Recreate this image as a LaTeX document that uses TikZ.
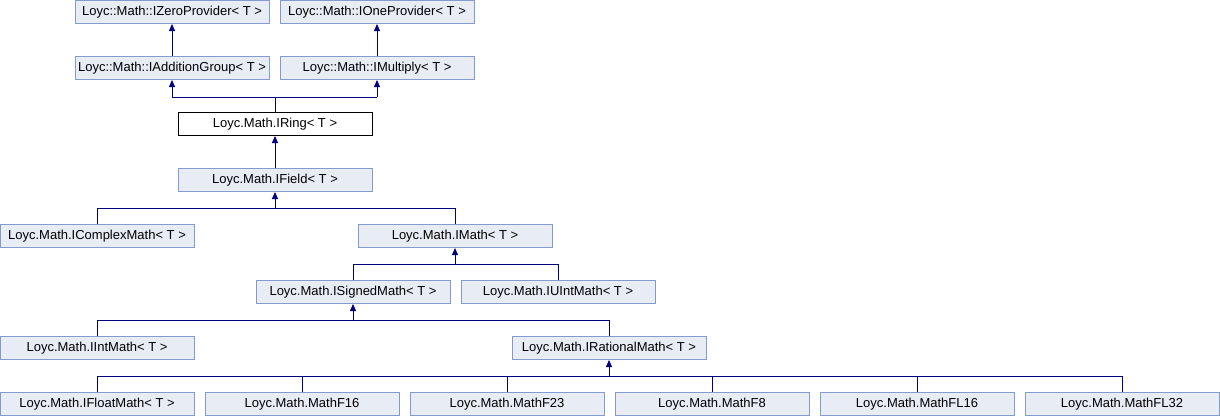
\documentclass[tikz,border=0pt]{standalone}
\usepackage{fontspec}
\setmainfont{Liberation Sans}
\usetikzlibrary{arrows.meta}
\definecolor{boxfill}{RGB}{232,236,245}
\definecolor{boxdraw}{RGB}{132,155,208}
\definecolor{edgecol}{RGB}{0,0,128}
\begin{document}
\begin{tikzpicture}[x=1pt,y=-1pt,
  cls/.style={draw=boxdraw,fill=boxfill,line width=1pt,minimum width=194pt,minimum height=23pt,inner sep=0pt,font=\fontsize{13}{15}\selectfont},
  cur/.style={cls,draw=black,fill=white},
  inh/.style={draw=edgecol,line width=1pt,-{Triangle[length=7pt,width=6pt]}},
  ln/.style={draw=edgecol,line width=1pt}]
\useasboundingbox (0,0) rectangle (1220,416);
% row 1
\node[cls] (zero) at (172,12) {Loyc::Math::IZeroProvider< T >};
\node[cls] (one) at (377,12) {Loyc::Math::IOneProvider< T >};
% row 2
\node[cls] (add) at (172,68) {Loyc::Math::IAdditionGroup< T >};
\node[cls] (mul) at (377,68) {Loyc::Math::IMultiply< T >};
% row 3
\node[cur] (ring) at (275,124) {Loyc.Math.IRing< T >};
% row 4
\node[cls] (field) at (275,180) {Loyc.Math.IField< T >};
% row 5
\node[cls] (complex) at (97,236) {Loyc.Math.IComplexMath< T >};
\node[cls] (imath) at (455,236) {Loyc.Math.IMath< T >};
% row 6
\node[cls] (signed) at (353,292) {Loyc.Math.ISignedMath< T >};
\node[cls] (uint) at (558,292) {Loyc.Math.IUIntMath< T >};
% row 7
\node[cls] (int) at (97,348) {Loyc.Math.IIntMath< T >};
\node[cls] (rational) at (609,348) {Loyc.Math.IRationalMath< T >};
% row 8
\node[cls] (float) at (97,404) {Loyc.Math.IFloatMath< T >};
\node[cls] (f16) at (302,404) {Loyc.Math.MathF16};
\node[cls] (f23) at (507,404) {Loyc.Math.MathF23};
\node[cls] (f8) at (712,404) {Loyc.Math.MathF8};
\node[cls] (fl16) at (917,404) {Loyc.Math.MathFL16};
\node[cls] (fl32) at (1122,404) {Loyc.Math.MathFL32};
% merge levels
\coordinate (m1) at (0,97);
\coordinate (m2) at (0,208);
\coordinate (m3) at (0,264);
\coordinate (m4) at (0,320);
\coordinate (m5) at (0,376);
% single edges
\draw[inh] (add.north) -- (zero.south);
\draw[inh] (mul.north) -- (one.south);
\draw[inh] (field.north) -- (ring.south);
% ring -> add, mul
\draw[ln] (ring.north) -- (ring.north |- m1);
\draw[ln] (add.south |- m1) -- (mul.south |- m1);
\draw[inh] (add.south |- m1) -- (add.south);
\draw[inh] (mul.south |- m1) -- (mul.south);
% complex, imath -> field
\draw[ln] (complex.north) -- (complex.north |- m2);
\draw[ln] (imath.north) -- (imath.north |- m2);
\draw[ln] (complex.north |- m2) -- (imath.north |- m2);
\draw[inh] (field.south |- m2) -- (field.south);
% signed, uint -> imath
\draw[ln] (signed.north) -- (signed.north |- m3);
\draw[ln] (uint.north) -- (uint.north |- m3);
\draw[ln] (signed.north |- m3) -- (uint.north |- m3);
\draw[inh] (imath.south |- m3) -- (imath.south);
% int, rational -> signed
\draw[ln] (int.north) -- (int.north |- m4);
\draw[ln] (rational.north) -- (rational.north |- m4);
\draw[ln] (int.north |- m4) -- (rational.north |- m4);
\draw[inh] (signed.south |- m4) -- (signed.south);
% row 8 -> rational
\foreach \c in {float,f16,f23,f8,fl16,fl32}
  \draw[ln] (\c.north) -- (\c.north |- m5);
\draw[ln] (float.north |- m5) -- (fl32.north |- m5);
\draw[inh] (rational.south |- m5) -- (rational.south);
\end{tikzpicture}
\end{document}
